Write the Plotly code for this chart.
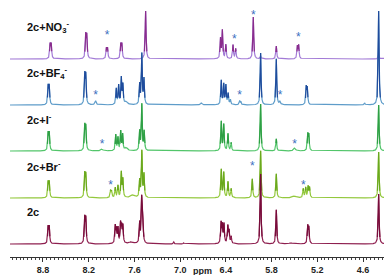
import numpy as np
import plotly.graph_objects as go

# ---- data (ppm, intensity[, half-width]) ----
tick_ppm = [8.8, 8.2, 7.6, 7.0, 6.4, 5.8, 5.2, 4.6]
series_names = ["2c+NO<sub>3</sub><sup>-</sup>", "2c+BF<sub>4</sub><sup>-</sup>",
                "2c+I<sup>-</sup>", "2c+Br<sup>-</sup>", "2c"]
offsets = [185, 139, 93, 46, 0]

peaks_no3 = [
    (8.706, 14), (8.692, 14), (8.239, 23), (8.225, 22), (7.967, 10), (7.953, 10),
    (7.779, 14), (7.765, 14), (7.453, 48), (6.470, 20), (6.446, 28), (6.400, 14),
    (6.306, 14), (6.271, 10), (6.040, 42), (5.944, 3), (5.738, 13),
    (5.461, 12), (5.445, 13), (4.395, 5),
]
peaks_bf4 = [
    (8.732, 18), (8.718, 18), (8.252, 29), (8.238, 28), (8.109, 4, 0.01),
    (7.838, 16), (7.807, 19), (7.772, 26), (7.752, 19), (7.707, 3, 0.02),
    (7.531, 20), (7.503, 50), (7.475, 25), (6.722, 2, 0.012),
    (6.460, 24), (6.428, 20), (6.400, 19), (6.370, 11), (6.340, 5),
    (6.219, 4), (6.203, 3), (5.944, 52), (5.738, 46), (5.690, 3, 0.01),
    (5.345, 17), (5.331, 16), (4.579, 2), (4.395, 94),
]
peaks_i = [
    (8.732, 17), (8.718, 17), (8.252, 24), (8.238, 23), (8.026, 2, 0.015),
    (7.845, 16), (7.816, 13), (7.780, 19), (7.755, 16), (7.707, 3, 0.02),
    (7.531, 19), (7.503, 46), (7.472, 19),
    (6.460, 29), (6.428, 26), (6.372, 17), (6.330, 8),
    (5.944, 47), (5.738, 12), (5.497, 3, 0.015), (5.325, 16), (5.311, 15), (4.395, 46),
]
peaks_br = [
    (8.732, 15), (8.718, 15), (8.252, 23), (8.238, 22), (7.913, 7), (7.899, 6),
    (7.851, 10), (7.816, 12), (7.772, 25), (7.752, 18), (7.62, 3, 0.03),
    (7.531, 17), (7.503, 46), (7.475, 23),
    (6.460, 28), (6.428, 25), (6.372, 16), (6.330, 9), (6.053, 19),
    (5.944, 47), (5.738, 24), (5.50, 2, 0.03),
    (5.384, 9), (5.352, 10), (5.320, 11), (5.302, 10), (4.395, 46),
]
peaks_2c = [
    (8.732, 16), (8.718, 16), (8.252, 25), (8.238, 24),
    (7.851, 17), (7.836, 13), (7.816, 15), (7.782, 19), (7.768, 15), (7.752, 17),
    (7.64, 2, 0.03), (7.531, 20), (7.505, 42), (7.492, 30), (7.085, 2), (6.954, 1),
    (6.462, 20), (6.446, 17), (6.425, 19), (6.374, 17), (6.358, 12), (6.330, 7),
    (5.944, 70), (5.738, 34), (5.545, 1, 0.03), (5.325, 17), (5.311, 15), (4.395, 50),
]
all_peaks = [peaks_no3, peaks_bf4, peaks_i, peaks_br, peaks_2c]

star_ppm = [7.96, 6.29, 6.04, 5.45, 8.109, 6.219, 5.69, 8.026, 5.497, 7.912, 6.053, 5.384]
star_y = [208, 204, 228, 206, 148, 148, 148, 99, 99, 58, 77, 58]

colors = ["#a27ad6", "#5e9cc9", "#52c56a", "#93c83c", "#8e1f4f"]
dark_colors = ["#8a2c8c", "#1f4b9c", "#2f9f45", "#6aa81e", "#780c3a"]

# ---- build ----
x = np.arange(4.12, 9.25, 0.001)


def spectrum(peaks):
    y = np.zeros_like(x)
    for p in peaks:
        c, h = p[0], p[1]
        w = p[2] if len(p) > 2 else 0.0065
        y += h * w * w / ((x - c) ** 2 + w * w)
    return y


fig = go.Figure()
for peaks, off, col, dcol in zip(all_peaks, offsets, colors, dark_colors):
    s = spectrum(peaks)
    fig.add_trace(go.Scatter(x=x, y=s + off, mode="lines",
                             line=dict(color=col, width=1.2), hoverinfo="skip"))
    top = np.where(s > 7, s + off, None)
    fig.add_trace(go.Scatter(x=x, y=top, mode="lines", connectgaps=False,
                             line=dict(color=dcol, width=1.2), hoverinfo="skip"))

# asterisks marking the new signals
fig.add_trace(go.Scatter(x=star_ppm, y=star_y, mode="text", text=["*"] * len(star_ppm),
                         textposition="middle center", hoverinfo="skip", cliponaxis=False,
                         textfont=dict(family="Liberation Sans, Arial", size=12, color="#3d6fc0")))

for name, off in zip(series_names, offsets):
    fig.add_annotation(x=0.0387, xref="paper", y=off + 32, yref="y", text="<b>" + name + "</b>",
                       showarrow=False, xanchor="left", yanchor="middle",
                       font=dict(family="Liberation Sans, Arial", size=11, color="#111"))

fig.add_annotation(x=0.497, xref="paper", y=-0.058, yref="paper", text="<b>ppm</b>",
                   showarrow=False, yanchor="middle", borderpad=0,
                   font=dict(family="Liberation Sans, Arial", size=9, color="#222"))

fig.update_layout(
    width=392, height=275, margin=dict(l=2, r=2, t=0, b=26),
    plot_bgcolor="white", paper_bgcolor="white", showlegend=False,
    xaxis=dict(range=[9.233, 4.141], tickvals=tick_ppm,
               ticktext=["<b>%.1f</b>" % v for v in tick_ppm],
               ticks="outside", ticklen=4, tickcolor="#333", showline=True,
               linecolor="#333", linewidth=1, showgrid=False, zeroline=False,
               tickfont=dict(family="Liberation Sans, Arial", size=9, color="#222"),
               minor=dict(dtick=0.05, tick0=4.6, ticks="outside", ticklen=2, tickcolor="#444")),
    yaxis=dict(range=[-13, 236], visible=False, fixedrange=True),
)

fig.write_html("out.html")
